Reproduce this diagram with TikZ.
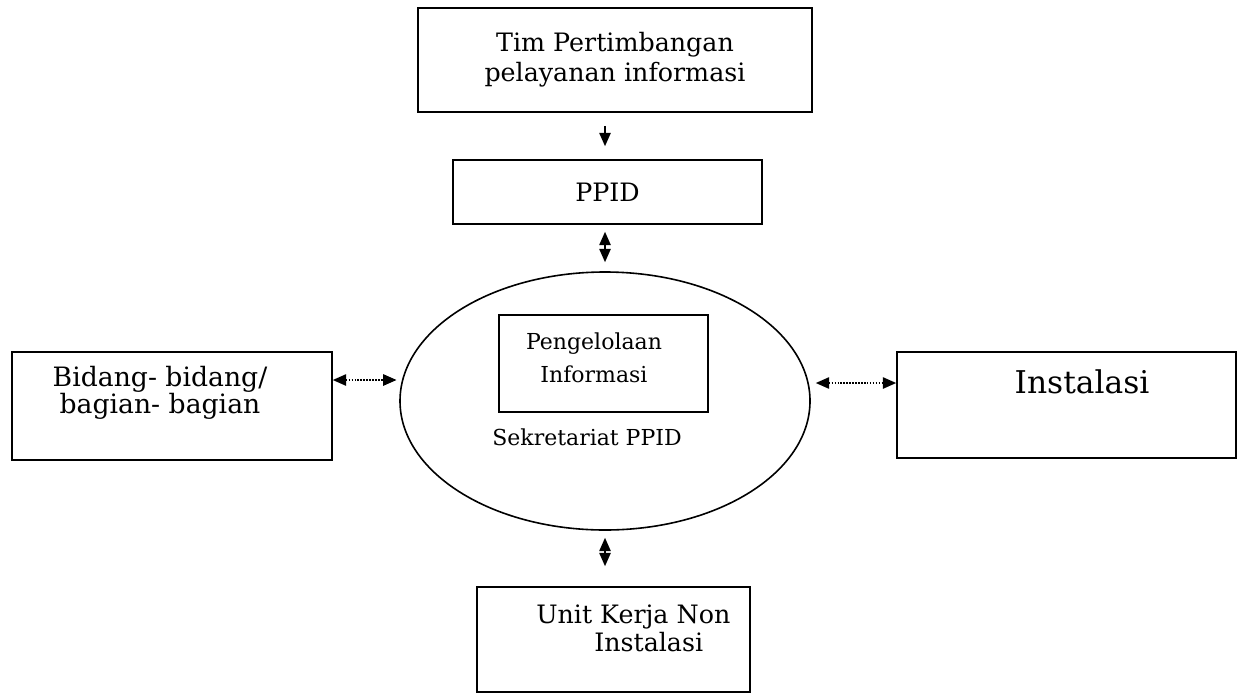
\documentclass[tikz,border=0pt]{standalone}
\usepackage{fontspec}
\setmainfont{DejaVu Serif}
\usetikzlibrary{arrows.meta}
\usetikzlibrary{shapes.geometric}

\begin{document}
\begin{tikzpicture}[x=0.75pt, y=-0.75pt, line width=1.2pt, >={Triangle[length=10pt,width=8.5pt]},
  kotak/.style={draw, inner sep=0pt},
  teks/.style={font=\fontsize{19}{22.5}\selectfont, align=center},
  kecil/.style={font=\fontsize{16.5}{24.75}\selectfont, align=center}]
\useasboundingbox (0,0) rectangle (1238,693);
\node [kotak, minimum width=295.5pt, minimum height=78pt, teks] (tim) at (615,60) {Tim Pertimbangan\\pelayanan informasi};
\node [kotak, minimum width=231.75pt, minimum height=48pt, teks] (ppid) at (607.5,192) {PPID};
\node [draw, ellipse, inner sep=0pt, minimum width=307.5pt, minimum height=193.5pt] (sek) at (605,401) {};
\node [kotak, minimum width=156.75pt, minimum height=72.75pt] (olah) at (603.5,363.5) {};
\node [kecil] (olah-t) at (594,358) {Pengelolaan\\Informasi};
\node [kecil] (sek-t) at (587,437) {Sekretariat PPID};
\node [kotak, minimum width=240pt, minimum height=81pt] (bid) at (172,406) {};
\node [teks, font=\fontsize{20}{19.5}\selectfont] (bid-t) at (160,393) {Bidang- bidang/\\bagian- bagian};
\node [kotak, minimum width=254.25pt, minimum height=79.5pt] (ins) at (1066.5,405) {};
\node [font=\fontsize{23.5}{28}\selectfont] (ins-t) at (1082,382) {Instalasi};
\node [kotak, minimum width=204.75pt, minimum height=78.75pt] (unit) at (613.5,639.5) {};
\node [teks, align=left, anchor=west, font=\fontsize{19}{21}\selectfont] (unit-t) at (531,628) {Unit Kerja Non\\\hspace*{43.5pt}Instalasi};

\draw [->, shorten <=9.75pt, shorten >=9.75pt] (tim.south -| sek.center) -- (ppid.north -| sek.center);
\draw [<->, shorten <=5.25pt, shorten >=6.75pt] (ppid.south -| sek.center) -- (sek.north);
\draw [<->, shorten <=5.25pt, shorten >=15pt] (sek.south) -- (unit.north -| sek.center);
\draw [<->, densely dotted, shorten >=2pt] ([yshift=19.5pt]bid.east) -- ([yshift=19.5pt]bid.east -| sek.west);
\draw [<->, densely dotted, shorten <=3.75pt] ([yshift=16.5pt]ins.west -| sek.east) -- ([yshift=16.5pt]ins.west);
\end{tikzpicture}
\end{document}
